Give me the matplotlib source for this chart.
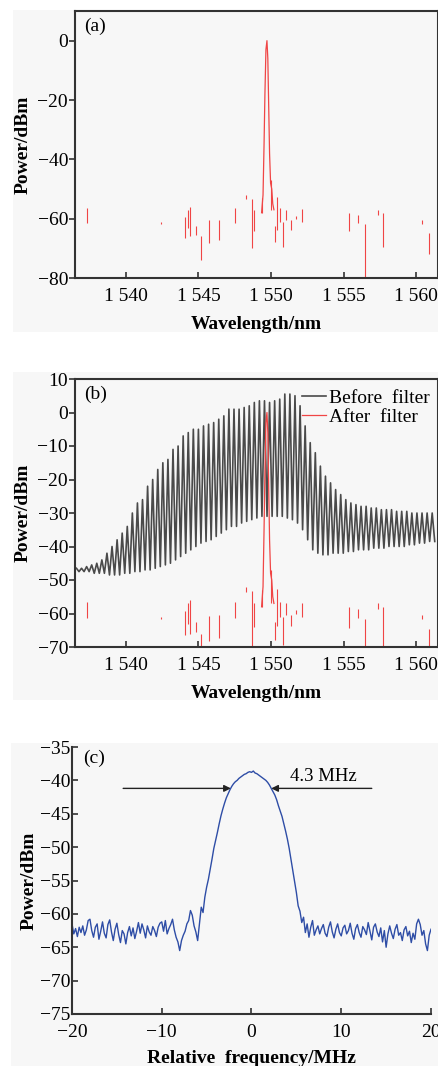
import numpy as np
import matplotlib
matplotlib.use("Agg")
import matplotlib.pyplot as plt
from matplotlib.patches import Rectangle

plt.rcParams['font.family'] = ['Liberation Serif', 'DejaVu Serif']
plt.rcParams['axes.unicode_minus'] = True

# ---------------- data ----------------
wl_ticks = [1540, 1545, 1550, 1555, 1560]
wl_ticklabels = ["1 540", "1 545", "1 550", "1 555", "1 560"]

# red (after filter) main peak
red_peak_x = [1549.35, 1549.45, 1549.52, 1549.58, 1549.65, 1549.72, 1549.78, 1549.84,
              1549.90, 1549.97, 1550.05, 1550.12, 1550.20]
red_peak_y = [-58, -52, -35, -18, -3, 0, -6, -22, -38, -48, -50, -55, -57]

# red scattered noise fragments (x, top, bottom)
red_seg_x = [1537.3, 1542.4, 1544.1, 1544.3, 1544.45, 1544.8, 1545.15, 1545.7, 1546.4,
             1547.5, 1548.3, 1548.7, 1548.8, 1549.4, 1550.0, 1550.25, 1550.4, 1550.6,
             1550.8, 1551.0, 1551.35, 1551.7, 1552.1, 1555.4, 1556.0, 1556.5, 1557.4,
             1557.7, 1560.4, 1560.85]
red_seg_top = [-56.5, -61.0, -59.3, -57.0, -56.0, -62.6, -66.0, -60.6, -60.4,
               -56.5, -52.0, -53.4, -57.0, -53.0, -47.0, -62.6, -52.6, -56.5,
               -61.0, -57.0, -60.4, -59.0, -56.8, -58.0, -58.7, -61.7, -57.0,
               -58.0, -60.4, -64.7]
red_seg_bot = [-61.3, -61.7, -66.5, -63.0, -66.0, -65.4, -73.8, -68.2, -67.3,
               -61.3, -53.5, -70.0, -64.0, -58.0, -57.0, -68.0, -63.8, -61.0,
               -69.4, -60.4, -63.8, -60.0, -61.0, -64.3, -61.3, -80.0, -58.7,
               -69.6, -61.7, -72.0]

# black (before filter) comb: per-tooth peak and trough levels (dBm)
comb_start = 1536.6
comb_spacing = 0.35
comb_peak = [-46.5, -46.5, -46, -45.5, -45, -44, -42, -40, -38, -36,
             -34, -30, -27, -26, -22, -20, -17, -15, -14, -11,
             -10, -7, -6, -5, -5, -4, -3.5, -3, -2, -1,
             1, 1, 1, 1.5, 2, 3, 3.5, 3.5, 3, 3.5,
             4, 5.5, 5.5, 5, 2, -4, -9, -12, -16, -19,
             -21, -23, -24.5, -26, -27, -27.5, -28, -28, -28.5, -28.5,
             -29, -29, -29, -29.5, -29.5, -29.5, -30, -30, -30, -30, -30]
comb_trough = [-47.5, -47.5, -47.5, -48, -48, -48, -48.5, -48.5, -48.5, -48,
               -48, -47.5, -47.5, -47, -47, -46.5, -46, -45.5, -45, -44,
               -43, -42, -41, -40, -39, -38.5, -38, -37, -36, -35,
               -34, -34, -33, -32.5, -32, -31.5, -31, -31, -31, -31,
               -31, -31.5, -32, -33, -35, -38, -41, -42, -42.5, -42.5,
               -42, -42, -42, -41.5, -41.5, -41, -41, -41, -40.5, -40.5,
               -40.5, -40, -40, -40, -40, -39.5, -39.5, -39, -39, -38.5, -38.5]

# panel (c) beat spectrum, relative frequency -20..20 MHz step 0.2
freq_start = -20.0
freq_step = 0.2
beat_power = [
    -61.5, -63.0, -62.2, -63.4, -62.0, -62.8, -61.8, -63.2, -62.4, -61.0,
    -60.8, -62.5, -63.5, -62.0, -61.5, -63.8, -62.6, -61.2, -62.9, -63.6,
    -61.6, -60.9, -62.7, -64.0, -62.3, -61.4, -63.1, -64.3, -62.5, -63.0,
    -64.5, -62.8, -61.9, -63.3, -62.1, -63.7, -62.6, -61.3, -62.9, -61.5,
    -62.4, -63.6, -61.8, -62.7, -63.2, -61.9, -62.5, -63.4, -62.0, -61.4,
    -61.2, -62.6, -61.0, -63.0, -62.2, -61.6, -60.8, -62.4, -63.5, -64.2,
    -65.5, -64.0, -63.2, -62.6, -61.5, -61.0, -59.5, -60.2, -61.8, -62.7,
    -64.0, -61.5, -59.0, -59.8, -57.5, -56.0, -54.8, -53.3, -51.8, -50.2,
    -49.0, -47.8, -46.5, -45.3, -44.3, -43.4, -42.6, -42.0, -41.4, -40.9,
    -40.5, -40.2, -40.0, -39.7, -39.5, -39.3, -39.1, -39.0, -38.8, -38.7,
    -38.8, -38.6, -38.9, -39.0, -39.2, -39.4, -39.6, -39.8, -40.0, -40.3,
    -40.7, -41.2, -41.7, -42.2, -42.9, -43.8, -44.6, -45.4, -46.5, -47.6,
    -48.8, -50.2, -51.8, -53.5, -55.2, -56.8, -58.8, -59.6, -61.3, -60.5,
    -62.8, -61.5, -63.5, -62.0, -61.0, -63.2, -62.4, -61.8, -63.0, -62.2,
    -61.6, -62.9, -63.4, -62.0, -61.2, -62.7, -63.6, -62.3, -61.5, -62.8,
    -63.3, -62.1, -61.7, -63.0, -62.5, -61.4, -62.9, -63.8, -62.2, -61.6,
    -62.8, -63.5, -61.9, -62.4, -63.1, -61.3, -62.6, -63.9, -62.0, -61.5,
    -62.7, -63.4, -62.1, -64.2, -62.5, -65.0, -63.0, -61.8, -62.9, -63.7,
    -62.3, -61.6, -63.2, -62.8, -64.0, -62.4, -61.9, -63.3, -62.6, -64.3,
    -62.9, -63.8, -61.5, -60.8, -61.6, -63.2, -62.5, -64.5, -65.5, -63.2,
    -62.3]
linewidth_label = "4.3 MHz"
linewidth_left = -2.3
linewidth_right = 2.2
linewidth_level = -41.2

# ---------------- figure ----------------
W, H = 439, 1066
fig = plt.figure(figsize=(W / 100, H / 100), dpi=100)
fig.patch.set_facecolor('white')

BG = '#f7f7f7'
for (x0, y0, x1, y1) in [(13, 10, 439, 332), (13, 372, 439, 700), (11, 743, 439, 1066)]:
    fig.patches.append(Rectangle((x0 / W, 1 - y1 / H), (x1 - x0) / W, (y1 - y0) / H,
                                 transform=fig.transFigure, facecolor=BG,
                                 edgecolor='none', zorder=-10))

def add_ax(l, r, t, b):
    ax = fig.add_axes([l / W, 1 - b / H, (r - l) / W, (b - t) / H])
    ax.set_facecolor(BG)
    return ax

SPC = '#333333'
RED = '#f04545'
TFS = 14
LFS = 14

def style(ax, spines_all=True, ytick_dir='out'):
    for s in ax.spines.values():
        s.set_color(SPC)
        s.set_linewidth(1.5)
    if not spines_all:
        ax.spines['top'].set_visible(False)
        ax.spines['right'].set_visible(False)
    ax.tick_params(axis='x', direction='in', length=4, width=1.2, color=SPC,
                   labelsize=TFS, pad=7, top=False)
    ax.tick_params(axis='y', direction=ytick_dir, length=4, width=1.2, color=SPC,
                   labelsize=TFS, pad=1, right=False)

# ---- (a)
axa = add_ax(75, 438, 11, 278)
axa.plot(red_peak_x, red_peak_y, color=RED, lw=0.9)
axa.vlines(red_seg_x, red_seg_bot, red_seg_top, color=RED, lw=0.8)
axa.set_xlim(1536.5, 1561.5)
axa.set_ylim(-80, 10)
axa.set_yticks([0, -20, -40, -60, -80])
axa.set_xticks(wl_ticks)
axa.set_xticklabels(wl_ticklabels)
style(axa)
axa.set_xlabel("Wavelength/nm", fontsize=LFS, fontweight='bold', labelpad=8)
axa.set_ylabel("Power/dBm", fontsize=LFS, fontweight='bold', labelpad=4)
axa.text(0.025, 0.975, "(a)", transform=axa.transAxes, fontsize=TFS, va='top', ha='left')

# ---- (b)
axb = add_ax(75, 438, 379, 647)
cx, cy = [], []
for i, (p, t) in enumerate(zip(comb_peak, comb_trough)):
    x0 = comb_start + i * comb_spacing
    cx += [x0, x0 + comb_spacing / 2]
    cy += [p, t]
axb.plot(cx, cy, color='#4a4a4a', lw=1.2, label="Before  filter")
axb.plot(red_peak_x, red_peak_y, color=RED, lw=0.9, label="After  filter")
axb.vlines(red_seg_x, red_seg_bot, red_seg_top, color=RED, lw=0.8)
axb.set_xlim(1536.5, 1561.5)
axb.set_ylim(-70, 10)
axb.set_yticks(list(range(10, -71, -10)))
axb.set_xticks(wl_ticks)
axb.set_xticklabels(wl_ticklabels)
style(axb)
axb.set_xlabel("Wavelength/nm", fontsize=LFS, fontweight='bold', labelpad=8)
axb.set_ylabel("Power/dBm", fontsize=LFS, fontweight='bold', labelpad=4)
axb.text(0.025, 0.975, "(b)", transform=axb.transAxes, fontsize=TFS, va='top', ha='left')
axb.legend(loc='upper right', frameon=False, fontsize=TFS, handlelength=1.2,
           handletextpad=0.2, borderaxespad=0.0, labelspacing=0.05,
           bbox_to_anchor=(1.0, 0.99))

# ---- (c)
axc = add_ax(72, 431, 747, 1014)
fx = [freq_start + i * freq_step for i in range(len(beat_power))]
axc.plot(fx, beat_power, color='#2e4da6', lw=1.0)
axc.set_xlim(-20, 20)
axc.set_ylim(-75, -35)
axc.set_yticks(list(range(-35, -76, -5)))
axc.set_xticks([-20, -10, 0, 10, 20])
style(axc, spines_all=False, ytick_dir='in')
axc.set_xlabel("Relative  frequency/MHz", fontsize=LFS, fontweight='bold', labelpad=7)
axc.set_ylabel("Power/dBm", fontsize=LFS, fontweight='bold', labelpad=2)
axc.text(0.03, 0.99, "(c)", transform=axc.transAxes, fontsize=TFS, va='top', ha='left')
axc.annotate("", xy=(linewidth_left, linewidth_level), xytext=(-14.3, linewidth_level),
             arrowprops=dict(arrowstyle='-|>', color='#222222', lw=1.0,
                             mutation_scale=10, shrinkA=0, shrinkB=0))
axc.annotate("", xy=(linewidth_right, linewidth_level), xytext=(13.4, linewidth_level),
             arrowprops=dict(arrowstyle='-|>', color='#222222', lw=1.0,
                             mutation_scale=10, shrinkA=0, shrinkB=0))
axc.text(4.3, -39.4, linewidth_label, fontsize=13.5, ha='left', va='center')

fig.savefig("out.png", dpi=100)
